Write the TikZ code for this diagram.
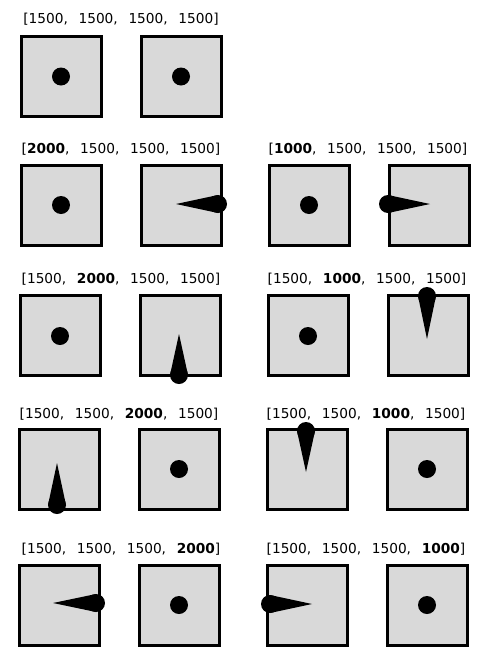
\documentclass[tikz,border=0pt]{standalone}
\usepackage{fontspec}
\setmainfont{DejaVu Sans}
\definecolor{boxgray}{HTML}{D9D9D9}
\newcommand{\gap}{\hspace{10.7pt}}
\newcommand{\labtext}[4]{[#1,\gap#2,\gap#3,\gap#4]}
\newcommand{\htear}[3]{\fill (#1,#2-9) -- (#3,#2) -- (#1,#2+9) -- cycle; \fill (#1,#2) circle (9);}
\newcommand{\vtear}[3]{\fill (#1-9,#2) -- (#1,#3) -- (#1+9,#2) -- cycle; \fill (#1,#2) circle (9);}
\begin{document}
\begin{tikzpicture}[x=1pt,y=-1pt,
  sq/.style={draw=black,line width=3pt,fill=boxgray},
  lab/.style={anchor=base,inner sep=0pt,font=\fontsize{13.7}{16}\selectfont},
  dot/.style={fill=black}]
\useasboundingbox (0,0) rectangle (489,662);
% row 1
\node[lab] (l1) at (121,23) {\labtext{1500}{1500}{1500}{1500}};
\draw[sq] (21,36.5) rectangle +(80,80);
\draw[sq] (141,36.5) rectangle +(80,80);
\fill (61,76.5) circle (9);
\fill (181,76.5) circle (9);
% row 2
\node[lab] (l2a) at (121,153) {\labtext{\textbf{2000}}{1500}{1500}{1500}};
\node[lab] (l2b) at (368,153) {\labtext{\textbf{1000}}{1500}{1500}{1500}};
\draw[sq] (21,165) rectangle +(80,80);
\draw[sq] (141,165) rectangle +(80,80);
\draw[sq] (269,165) rectangle +(80,80);
\draw[sq] (389,165) rectangle +(80,80);
\fill (61,205) circle (9);
\fill (309,205) circle (9);
\htear{218}{204}{176}
\htear{388}{204}{430}
% row 3
\node[lab] (l3a) at (121,283) {\labtext{1500}{\textbf{2000}}{1500}{1500}};
\node[lab] (l3b) at (367,283) {\labtext{1500}{\textbf{1000}}{1500}{1500}};
\draw[sq] (20,295) rectangle +(80,80);
\draw[sq] (140,295) rectangle +(80,80);
\draw[sq] (268,295) rectangle +(80,80);
\draw[sq] (388,295) rectangle +(80,80);
\fill (60,336) circle (9);
\fill (308,336) circle (9);
\vtear{179}{375}{334}
\vtear{427}{296}{339}
% row 4
\node[lab] (l4a) at (119,418) {\labtext{1500}{1500}{\textbf{2000}}{1500}};
\node[lab] (l4b) at (366,418) {\labtext{1500}{1500}{\textbf{1000}}{1500}};
\draw[sq] (19,429) rectangle +(80,80);
\draw[sq] (139,429) rectangle +(80,80);
\draw[sq] (267,429) rectangle +(80,80);
\draw[sq] (387,429) rectangle +(80,80);
\fill (179,469) circle (9);
\fill (427,469) circle (9);
\vtear{57}{505}{463}
\vtear{306}{431}{472}
% row 5
\node[lab] (l5a) at (121,553) {\labtext{1500}{1500}{1500}{\textbf{2000}}};
\node[lab] (l5b) at (366,553) {\labtext{1500}{1500}{1500}{\textbf{1000}}};
\draw[sq] (19,565) rectangle +(80,80);
\draw[sq] (139,565) rectangle +(80,80);
\draw[sq] (267,565) rectangle +(80,80);
\draw[sq] (387,565) rectangle +(80,80);
\fill (179,605) circle (9);
\fill (427,605) circle (9);
\htear{96}{603}{53}
\htear{270}{604}{312}
\end{tikzpicture}
\end{document}
